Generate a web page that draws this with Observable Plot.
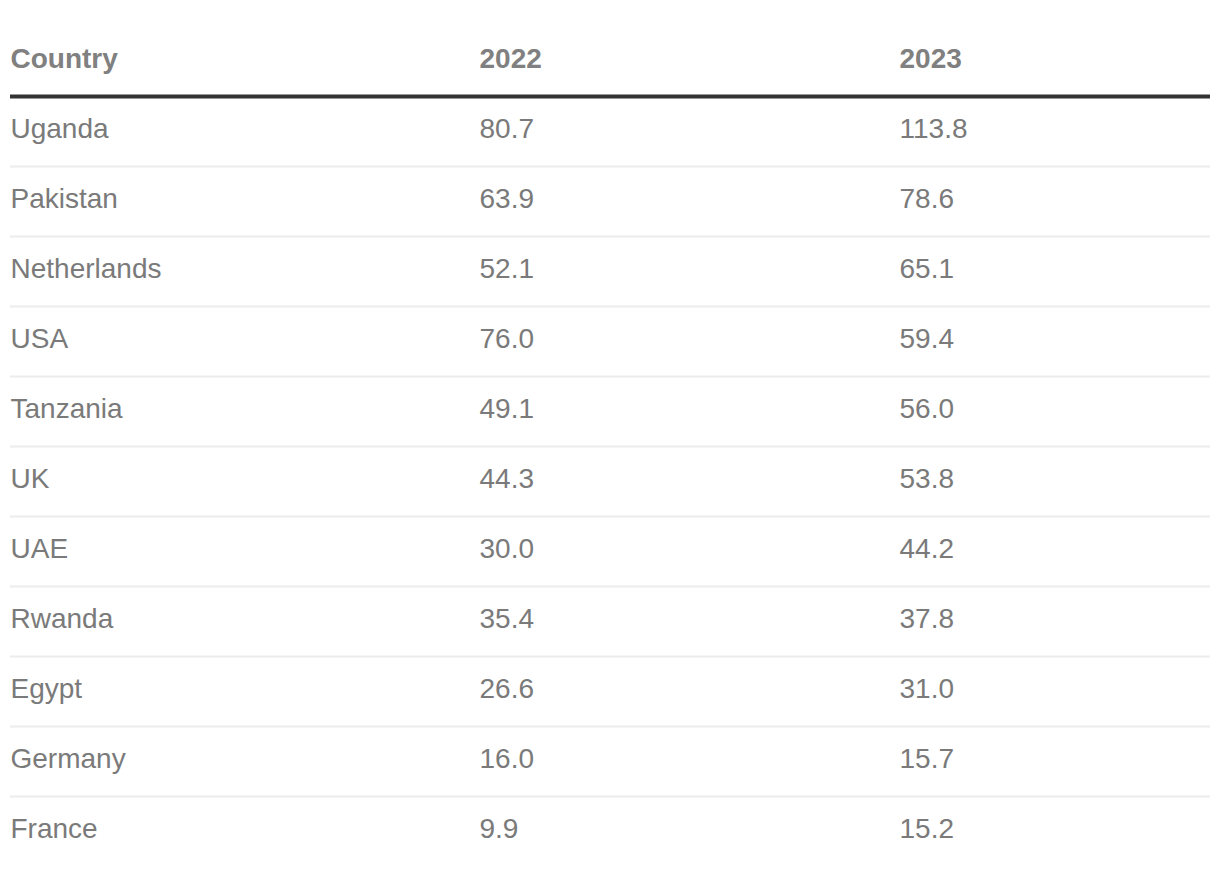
<!DOCTYPE html>
<html><head><meta charset="utf-8">
<script src="https://cdn.jsdelivr.net/npm/d3@7"></script>
<script src="https://cdn.jsdelivr.net/npm/@observablehq/plot@0.6"></script>
<style>body{margin:0;background:#fff}</style>
</head><body><div id="chart"></div>
<script>
const columns = ["Country", "2022", "2023"];
const countries = ["Uganda", "Pakistan", "Netherlands", "USA", "Tanzania", "UK", "UAE", "Rwanda", "Egypt", "Germany", "France"];
const values2022 = [80.7, 63.9, 52.1, 76.0, 49.1, 44.3, 30.0, 35.4, 26.6, 16.0, 9.9];
const values2023 = [113.8, 78.6, 65.1, 59.4, 56.0, 53.8, 44.2, 37.8, 31.0, 15.7, 15.2];

const HEADER = "__header";
const colX = [0, 469, 889]; // column left offsets (layout)

const cells = countries.flatMap((c, i) => [
  {row: c, col: 0, text: c},
  {row: c, col: 1, text: values2022[i].toFixed(1)},
  {row: c, col: 2, text: values2023[i].toFixed(1)}
]);

const plot = Plot.plot({
  width: 1220,
  height: 876,
  margin: 0,
  x: {type: "linear", domain: [0, 1200], range: [10, 1210], axis: null},
  y: {type: "band", domain: [HEADER, ...countries], range: [27, 867], padding: 0, axis: null},
  style: {fontFamily: "'Liberation Sans', Arial, Helvetica, sans-serif", background: "#fff"},
  marks: [
    Plot.ruleY(countries.slice(0, -1), {y: d => d, x1: 0, x2: 1200, dy: 34, stroke: "#ececec", strokeWidth: 2}),
    Plot.ruleY([HEADER], {y: d => d, x1: 0, x2: 1200, dy: 34, stroke: "#333333", strokeWidth: 4}),
    Plot.text(columns, {x: (d, i) => colX[i], y: () => HEADER, text: d => d, textAnchor: "start", fontSize: 28, fontWeight: "bold", fill: "#808080", dy: -3}),
    Plot.text(cells, {x: d => colX[d.col], y: "row", text: "text", textAnchor: "start", fontSize: 28, fill: "#7a7a7a", dy: -3})
  ]
});
document.getElementById("chart").appendChild(plot);
</script>
</body></html>
